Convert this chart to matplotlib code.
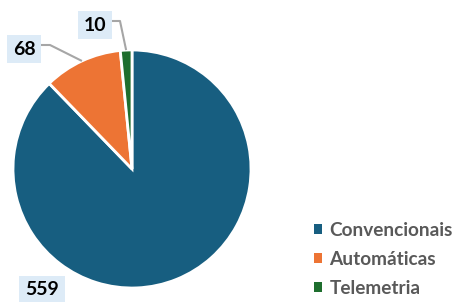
import matplotlib.pyplot as plt
import numpy as np

plt.rcParams['font.family'] = ['Lato', 'DejaVu Sans']

categorias = ['Convencionais', 'Automáticas', 'Telemetria']
valores = [559, 68, 10]
cores = ['#175E80', '#ED7434', '#1E6E2E']
explode = [0, 0.085, 0.06]

fig = plt.figure(figsize=(4.56, 3.02), dpi=100)
ax = fig.add_axes([0, 0, 1, 1])

wedges, _ = ax.pie(valores, colors=cores, startangle=90, counterclock=False,
                   explode=explode, center=(132, 133), radius=119,
                   wedgeprops=dict(edgecolor='white', linewidth=2))

# pie() mexe nos limites, então define depois
ax.set_xlim(0, 456)
ax.set_ylim(0, 302)
ax.set_aspect('equal')
ax.axis('off')

# posições dos rótulos (pixels, y para cima)
pos_rotulos = [(42, 12), (24, 253), (95, 277)]
caixa = dict(boxstyle='square,pad=0.3', fc='#DDEBF7', ec='none')

for w, v, (tx, ty) in zip(wedges, valores, pos_rotulos):
    ax.text(tx, ty, str(v), ha='center', va='center', fontsize=14,
            fontweight='bold', color='black', bbox=caixa, zorder=5)

# linhas de chamada para as fatias pequenas
for w, (tx, ty), dx in [(wedges[1], pos_rotulos[1], 26), (wedges[2], pos_rotulos[2], 25)]:
    meio = np.deg2rad((w.theta1 + w.theta2) / 2)
    cx, cy = w.center
    px = cx + w.r * np.cos(meio)
    py = cy + w.r * np.sin(meio)
    x0 = tx + 17
    ax.plot([x0, x0 + dx - 17, px], [ty + 4, ty + 4, py], color='#A6A6A6',
            lw=1.5, zorder=4, solid_capstyle='butt')

leg = ax.legend(wedges, categorias, loc='lower left', bbox_to_anchor=(313 / 456, 4 / 302),
                frameon=False, fontsize=13.7, handlelength=0.42, handleheight=0.42,
                handletextpad=0.4, labelspacing=0.63, borderpad=0.05, borderaxespad=0)
for t in leg.get_texts():
    t.set_color('#595959')
    t.set_fontweight('bold')
for h in leg.legend_handles:
    h.set_edgecolor('none')

fig.savefig('out.png', dpi=100)
